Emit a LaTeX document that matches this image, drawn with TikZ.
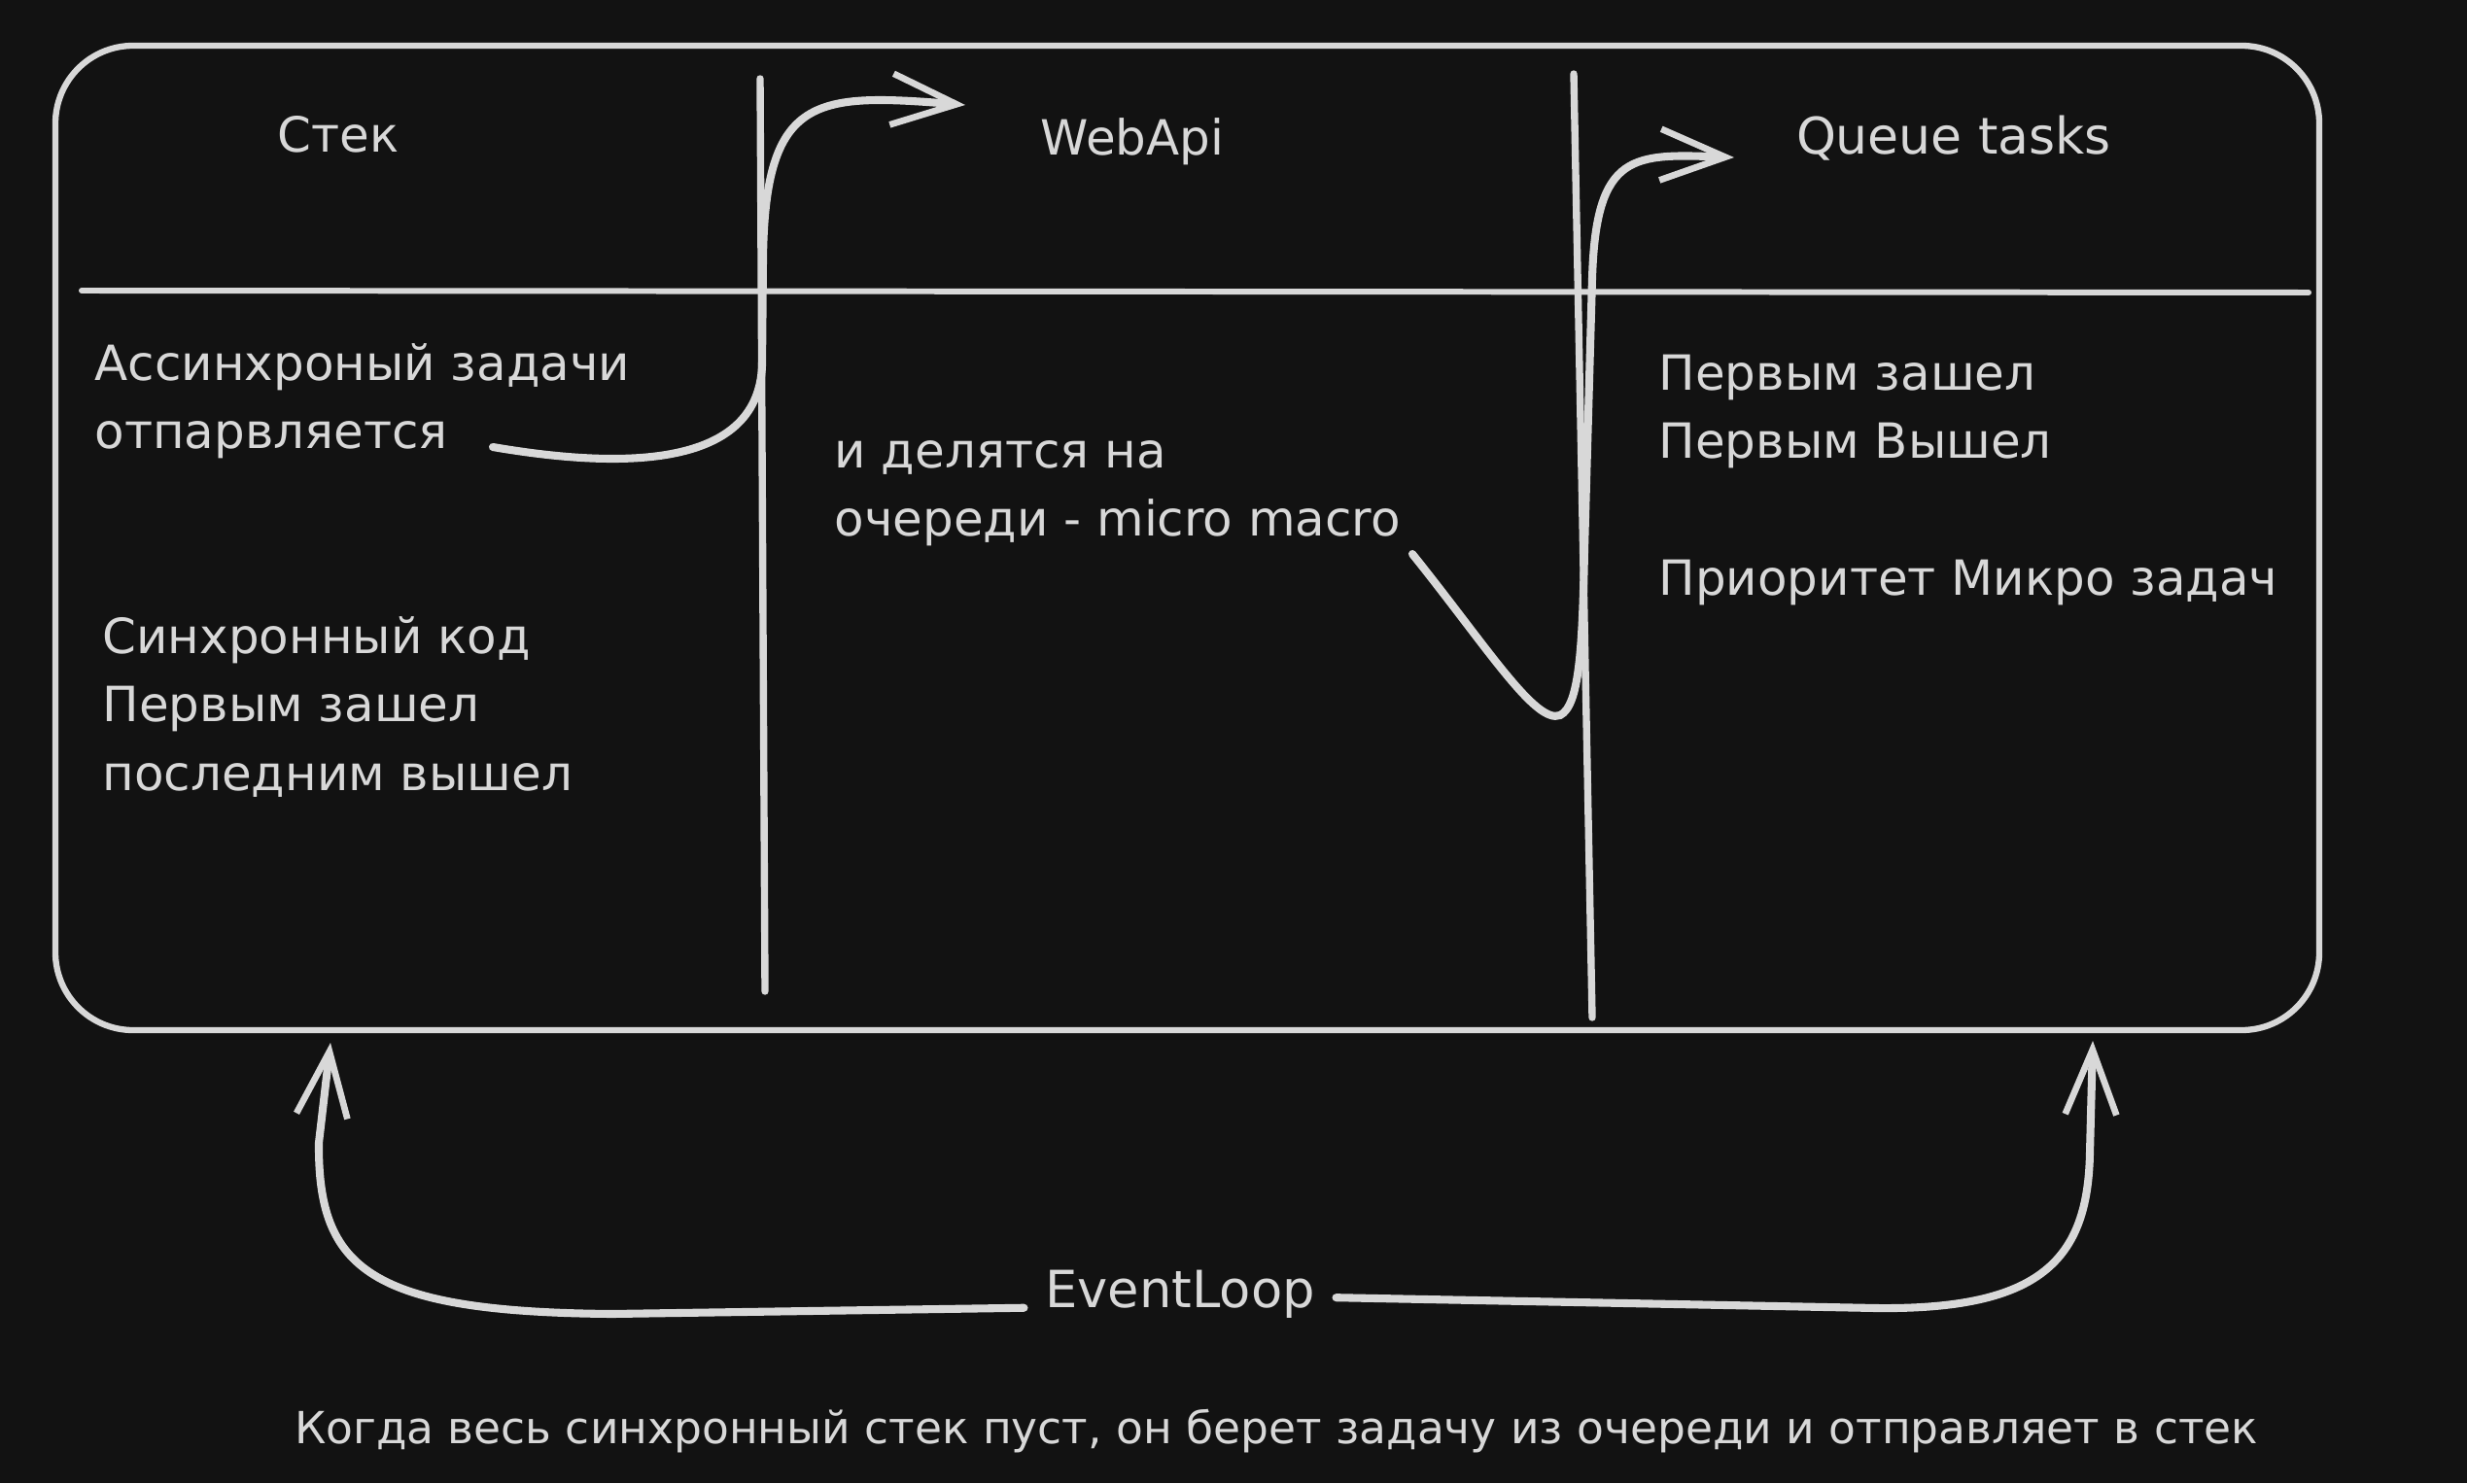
\documentclass[tikz,border=0pt]{standalone}
\usepackage{fontspec}
\setmainfont{DejaVu Sans}
\usepackage{tikz}
\usetikzlibrary{arrows.meta,calc}
\definecolor{bgdark}{HTML}{121212}
\definecolor{chalk}{HTML}{D8D8D8}

\begin{document}
\begin{tikzpicture}[
  lbl/.style={text=chalk, font=\fontsize{14.2}{20}\selectfont, inner sep=0pt},
  head/.style={lbl, anchor=center},
  note/.style={lbl, anchor=north west, align=left},
  arr/.style={draw=chalk, line width=2.3pt, line cap=round, -{Straight Barb[length=19pt,width=15pt,line width=1.9pt]}},
  wall/.style={draw=chalk, line width=2.1pt, line cap=round}
]
  \useasboundingbox (0,0) rectangle (25.38,15.26);
  \fill[bgdark] (0,0) rectangle (25.38,15.26);

  % frame and columns
  \draw[wall, line width=1.8pt, rounded corners=0.8cm] (0.57,4.66) rectangle (23.86,14.79);
  \draw[wall, line width=1.7pt] (0.84,12.27) -- (23.75,12.25);
  \draw[wall] (7.82,14.45) -- (7.87,5.06);
  \draw[wall] (16.19,14.50) -- (16.38,4.79);

  \node[head] (stack) at (3.48,13.88) {Стек};
  \node[head] (webapi) at (11.65,13.80) {WebApi};
  \node[head, font=\fontsize{14.8}{20}\selectfont] (queue) at (20.10,13.84) {Queue tasks};

  \node[note] (async) at (0.97,11.73) {Ассинхроный задачи\\отпарвляется};
  \node[note] (split) at (8.58,10.73) {и делятся на\\очереди - micro macro};
  \node[note] (sync) at (1.05,8.92) {Синхронный код\\Первым зашел\\последним вышел};
  \node[note] (fifo) at (17.06,11.62) {Первым зашел\\Первым Вышел};
  \node[note] (prio) at (17.06,9.51) {Приоритет Микро задач};

  \node[head, font=\fontsize{15}{18}\selectfont] (loop) at (12.14,1.94) {EventLoop};
  \node[head, font=\fontsize{12.95}{16}\selectfont] (rule) at (13.13,0.53)
    {Когда весь синхронный стек пуст, он берет задачу из очереди и отправляет в стек};

  \coordinate (a1s) at (5.07,10.66);
  \coordinate (a1e) at (9.93,14.18);
  \coordinate (a2s) at (14.53,9.56);
  \coordinate (a2e) at (17.84,13.64);
  \coordinate (tipl) at (3.40,4.53);
  \coordinate (tipr) at (21.53,4.55);

  \draw[arr] (a1s) .. controls (6.3,10.45) and (7.8,10.4) .. (7.84,11.5)
    -- (7.85,12.6) .. controls (7.87,14.3) and (8.4,14.3) .. (a1e);
  \draw[arr] (a2s) .. controls (15.3,8.6) and (15.8,7.8) .. (16.05,7.9)
    .. controls (16.25,8.0) and (16.28,8.6) .. (16.3,9.6)
    -- (16.38,12.4) .. controls (16.42,13.7) and (16.8,13.68) .. (a2e);
  \draw[arr] ([xshift=-6pt]loop.base west) -- (6.3,1.74)
    .. controls (3.8,1.76) and (3.27,2.2) .. (3.28,3.5) -- (tipl);
  \draw[arr] ([xshift=6pt,yshift=3pt]loop.base east) -- (19.3,1.80)
    .. controls (21.0,1.78) and (21.48,2.3) .. (21.5,3.4) -- (tipr);
\end{tikzpicture}
\end{document}
